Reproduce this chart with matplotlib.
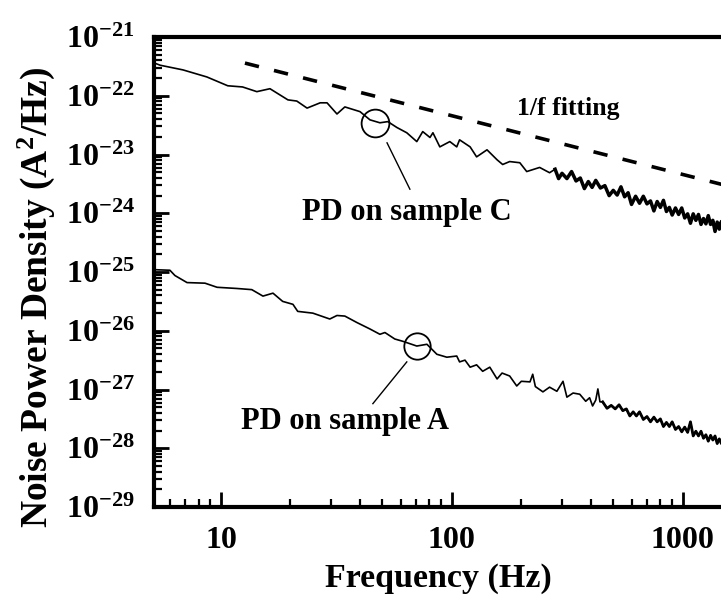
import numpy as np
import matplotlib
import matplotlib.pyplot as plt
from matplotlib.ticker import LogLocator, NullFormatter

matplotlib.rcParams.update({
    'font.family': 'serif',
    'font.serif': ['Liberation Serif'],
    'font.weight': 'bold',
    'mathtext.fontset': 'custom',
    'mathtext.rm': 'Liberation Serif:bold',
    'mathtext.it': 'Liberation Serif:italic:bold',
    'mathtext.bf': 'Liberation Serif:bold',
    'mathtext.default': 'rm',
})

# sample C, frequency in Hz and log10 of the noise PSD (A^2/Hz)
freq_c = [5.13, 5.45, 6.85, 8.69, 10.7, 12.4, 14.3, 16.3, 19.5, 21.3, 23.6, 26.9, 28.8,
          31.8, 34.4, 40.0, 44.2, 48.8, 52.8, 57.8, 63.8, 70.5, 74.8, 80.4, 82.8, 88.7,
          98.0, 105, 108, 120, 128, 142, 157, 166, 178, 197, 211, 240, 265,
          280, 290, 300, 315, 330, 345, 360, 375, 390, 405, 420, 440, 460, 480, 500, 520,
          540, 560, 580, 600, 625, 650, 675, 700, 725, 750, 775, 800, 825, 850, 875, 900,
          930, 960, 990, 1020, 1050, 1080, 1110, 1140, 1170, 1200, 1230, 1260, 1290, 1320,
          1350, 1380, 1410, 1440, 1470, 1500]
logpsd_c = [-21.44, -21.48, -21.56, -21.68, -21.83, -21.85, -21.93, -21.88, -22.07, -22.09,
            -22.21, -22.12, -22.12, -22.31, -22.19, -22.27, -22.41, -22.46, -22.44, -22.54,
            -22.63, -22.78, -22.61, -22.71, -22.63, -22.87, -22.78, -22.87, -22.75, -22.87,
            -23.04, -22.92, -23.09, -23.17, -23.12, -23.14, -23.29, -23.22, -23.31,
            -23.25, -23.41, -23.32, -23.41, -23.29, -23.45, -23.40, -23.58, -23.46, -23.56,
            -23.44, -23.57, -23.53, -23.70, -23.61, -23.69, -23.55, -23.72, -23.65, -23.85,
            -23.71, -23.83, -23.71, -23.84, -23.79, -23.96, -23.80, -23.90, -23.78, -23.97,
            -23.90, -24.03, -23.91, -24.02, -23.91, -24.08, -24.01, -24.17, -24.01, -24.12,
            -24.02, -24.19, -24.09, -24.18, -24.04, -24.19, -24.12, -24.31, -24.15, -24.27,
            -24.14, -24.27]

# sample A
freq_a = [5.13, 6.01, 6.32, 7.13, 8.53, 9.62, 11.7, 13.6, 15.2, 16.8, 18.5, 20.5, 21.5,
          25.0, 29.6, 31.8, 34.4, 38.8, 44.2, 48.8, 51.3, 56.6, 61.4, 70.5, 78.0, 86.1,
          95.1, 105,
          108, 114, 120, 128, 136, 146, 157, 165, 178, 191, 200, 218, 224, 230, 248, 265,
          285, 303, 315, 335, 358, 380, 395, 407, 420, 429, 438,
          450, 470, 490, 510, 530, 550, 570, 590, 610, 630, 650, 675, 700, 725, 750, 775,
          800, 825, 850, 875, 900, 930, 960, 990, 1020, 1050, 1080, 1110, 1140, 1170, 1200,
          1230, 1260, 1290, 1320, 1350, 1380, 1410, 1440, 1470, 1500]
logpsd_a = [-24.96, -24.97, -25.06, -25.18, -25.19, -25.26, -25.28, -25.30, -25.41, -25.36,
            -25.50, -25.55, -25.67, -25.70, -25.80, -25.74, -25.75, -25.86, -25.97, -26.06,
            -26.03, -26.14, -26.18, -26.26, -26.23, -26.40, -26.45, -26.43,
            -26.53, -26.50, -26.62, -26.58, -26.69, -26.62, -26.82, -26.72, -26.77, -26.94,
            -26.86, -26.87, -26.74, -26.95, -27.04, -26.96, -27.03, -26.86, -27.13, -27.06,
            -27.08, -27.20, -27.14, -27.28, -27.18, -26.99, -27.21,
            -27.21, -27.32, -27.27, -27.33, -27.26, -27.36, -27.33, -27.45, -27.38, -27.45,
            -27.38, -27.51, -27.46, -27.55, -27.47, -27.55, -27.50, -27.63, -27.56, -27.63,
            -27.55, -27.68, -27.63, -27.72, -27.64, -27.73, -27.55, -27.79, -27.71, -27.79,
            -27.71, -27.83, -27.77, -27.88, -27.78, -27.86, -27.79, -27.92, -27.84, -27.92,
            -27.87]

# 1/f fitting line end points
fit_freq = [12.7, 1500]
fit_psd = [3.6e-22, 3.05e-24]

xtick_vals = [10, 100, 1000]
xtick_labels = ['10', '100', '1000']
ytick_exps = [-29, -28, -27, -26, -25, -24, -23, -22, -21]
ytick_labels = [r'$10^{%d}$' % e for e in ytick_exps]

fig = plt.figure(figsize=(7.21, 5.96), dpi=100)
ax = fig.add_axes([0.2136, 0.1493, 0.8294, 0.7886])

fc, pc = np.array(freq_c), 10 ** np.array(logpsd_c)
fa, pa = np.array(freq_a), 10 ** np.array(logpsd_a)
ax.plot(fc, pc, color='black', lw=1.2)
ax.plot(fa, pa, color='black', lw=1.2)
# the densely sampled high-frequency part looks like a thick band
hc, ha_ = fc >= 280, fa >= 440
ax.plot(fc[hc], pc[hc], color='black', lw=2.5)
ax.plot(fa[ha_], pa[ha_], color='black', lw=2.0)
ax.plot(fit_freq, fit_psd, color='black', lw=2.6, linestyle=(0, (4, 4.3)))

# circled points and pointer lines
ax.plot([46.4], [3.5e-23], 'o', ms=20, mfc='none', mec='black', mew=1.3)
ax.plot([70.5], [5.5e-27], 'o', ms=19, mfc='none', mec='black', mew=1.3)
ax.plot([52.4, 65.8], [1.58e-23, 2.57e-24], color='black', lw=1.0)
ax.plot([63.8, 45.5], [2.95e-27, 5.75e-28], color='black', lw=1.0)

ax.text(22.4, 10 ** -23.98, 'PD on sample C', fontsize=22, ha='left', va='center')
ax.text(12.2, 10 ** -27.54, 'PD on sample A', fontsize=22, ha='left', va='center')
ax.text(191, 10 ** -22.22, '1/f fitting', fontsize=18.5, ha='left', va='center')

ax.set_xscale('log')
ax.set_yscale('log')
ax.set_xlim(10 ** 0.71, 10 ** 3.3)
ax.set_ylim(1e-29, 1e-21)

ax.set_xticks(xtick_vals)
ax.set_xticklabels(xtick_labels)
ax.set_yticks([10.0 ** e for e in ytick_exps])
ax.set_yticklabels(ytick_labels)
ax.xaxis.set_minor_locator(LogLocator(base=10, subs=range(2, 10), numticks=20))
ax.yaxis.set_minor_locator(LogLocator(base=10, subs=range(2, 10), numticks=20))
ax.xaxis.set_minor_formatter(NullFormatter())
ax.yaxis.set_minor_formatter(NullFormatter())

ax.tick_params(which='major', direction='in', length=11, width=2, labelsize=23, pad=14,
               top=False, right=False)
ax.tick_params(which='minor', direction='in', length=6, width=1.6, top=False, right=False)
for s in ax.spines.values():
    s.set_linewidth(3)

ax.set_xlabel('Frequency (Hz)', fontsize=24.5, fontweight='bold')
ax.xaxis.set_label_coords(0.475, -0.12)
ax.set_ylabel('Noise Power Density (A$^2$/Hz)', fontsize=27, fontweight='bold')
ax.yaxis.set_label_coords(-0.163, 0.447)

fig.savefig('out.png', dpi=100)
